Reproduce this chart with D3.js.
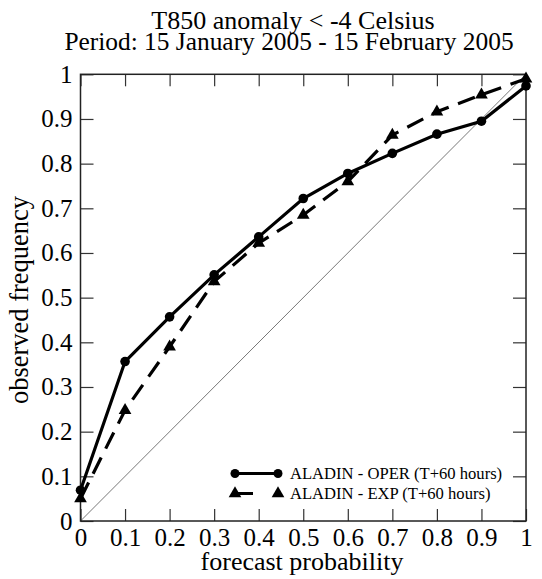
<!DOCTYPE html>
<html><head><meta charset="utf-8">
<script src="https://cdn.jsdelivr.net/npm/d3@7"></script>
<style>body{margin:0;background:#fff}svg{display:block}text{font-family:"Liberation Serif","DejaVu Serif",serif;fill:#000}</style>
</head><body><svg id="c" width="542" height="579"></svg>
<script>
const probs = [0,0.1,0.2,0.3,0.4,0.5,0.6,0.7,0.8,0.9,1.0];
const operValues = [0.069,0.357,0.457,0.551,0.636,0.722,0.778,0.823,0.866,0.895,0.974];
const expValues = [0.05,0.248,0.39,0.536,0.622,0.685,0.76,0.864,0.916,0.954,0.99];
const tickLabels = ["0","0.1","0.2","0.3","0.4","0.5","0.6","0.7","0.8","0.9","1"];
const titleLines = ["T850 anomaly < -4 Celsius","Period: 15 January 2005 - 15 February 2005"];
const seriesNames = ["ALADIN - OPER (T+60 hours)","ALADIN - EXP (T+60 hours)"];

const svg = d3.select("#c");
const L=80.5,R=526,T=74.3,B=521;
const x = d3.scaleLinear().domain([0,1]).range([L,R]);
const y = d3.scaleLinear().domain([0,1]).range([B,T]);
const tickVals = probs;
const fmt = (d,i)=>tickLabels[i];

// diagonal
svg.append("line").attr("x1",x(0)).attr("y1",y(0)).attr("x2",x(1)).attr("y2",y(1))
  .attr("stroke","#555").attr("stroke-width",0.8);

// axes with inward ticks
const axB = d3.axisBottom(x).tickValues(tickVals).tickFormat(fmt).tickSizeInner(-12).tickSizeOuter(0).tickPadding(7.5);
const axT = d3.axisTop(x).tickValues(tickVals).tickFormat("").tickSizeInner(-12).tickSizeOuter(0);
const axL = d3.axisLeft(y).tickValues(tickVals).tickFormat(fmt).tickSizeInner(-13).tickSizeOuter(0).tickPadding(8);
const axR = d3.axisRight(y).tickValues(tickVals).tickFormat("").tickSizeInner(-13).tickSizeOuter(0);
function style(g){g.attr("font-family",null);g.selectAll(".domain").remove();g.selectAll("line").attr("stroke","#333").attr("stroke-width",1.2);
  g.selectAll("text").attr("font-size",25).attr("fill","#000");}
svg.append("g").attr("transform",`translate(0,${B})`).call(axB).call(style);
svg.append("g").attr("transform",`translate(0,${T})`).call(axT).call(style);
svg.append("g").attr("transform",`translate(${L},0)`).call(axL).call(style);
svg.append("g").attr("transform",`translate(${R},0)`).call(axR).call(style);
svg.append("rect").attr("x",L).attr("y",T).attr("width",R-L).attr("height",B-T)
  .attr("fill","none").attr("stroke","#222").attr("stroke-width",1.5);

const line = d3.line().x(d=>x(d[0])).y(d=>y(d[1]));
const oper = probs.map((p,i)=>[p,operValues[i]]);
const exp = probs.map((p,i)=>[p,expValues[i]]);
svg.append("path").datum(exp).attr("d",line).attr("fill","none").attr("stroke","#000")
  .attr("stroke-width",3.2).attr("stroke-dasharray","18,10");
svg.append("path").datum(oper).attr("d",line).attr("fill","none").attr("stroke","#000").attr("stroke-width",3.2);
const tri = d3.symbol().type(d3.symbolTriangle).size(70);
svg.selectAll(".t").data(exp).enter().append("path").attr("d",tri)
  .attr("transform",d=>`translate(${x(d[0])},${y(d[1])})`).attr("fill","#000");
svg.selectAll(".c").data(oper).enter().append("circle").attr("cx",d=>x(d[0])).attr("cy",d=>y(d[1]))
  .attr("r",4.8).attr("fill","#000");

// legend
const lx1=235, lx2=278;
const ly=[473.5,493.5];
svg.append("line").attr("x1",lx1).attr("x2",lx2).attr("y1",ly[0]).attr("y2",ly[0]).attr("stroke","#000").attr("stroke-width",3);
svg.append("circle").attr("cx",lx1).attr("cy",ly[0]).attr("r",4.5);
svg.append("circle").attr("cx",lx2).attr("cy",ly[0]).attr("r",4.5);
svg.append("line").attr("x1",lx1).attr("x2",lx2).attr("y1",ly[1]).attr("y2",ly[1]).attr("stroke","#000").attr("stroke-width",3).attr("stroke-dasharray","18,25");
svg.append("path").attr("d",tri).attr("transform",`translate(${lx1},${ly[1]})`);
svg.append("path").attr("d",tri).attr("transform",`translate(${lx2},${ly[1]})`);
seriesNames.forEach((s,i)=>svg.append("text").attr("x",290).attr("y",ly[i]+5.5).attr("font-size",16.6).text(s));

// titles
svg.append("text").attr("x",293).attr("y",29).attr("text-anchor","middle").attr("font-size",26).text(titleLines[0]);
svg.append("text").attr("x",289).attr("y",50).attr("text-anchor","middle").attr("font-size",25.4).text(titleLines[1]);
svg.append("text").attr("x",302).attr("y",569.5).attr("text-anchor","middle").attr("font-size",26).text("forecast probability");
svg.append("text").attr("transform","translate(28,300) rotate(-90)").attr("text-anchor","middle").attr("font-size",26.5).text("observed frequency");
</script></body></html>
